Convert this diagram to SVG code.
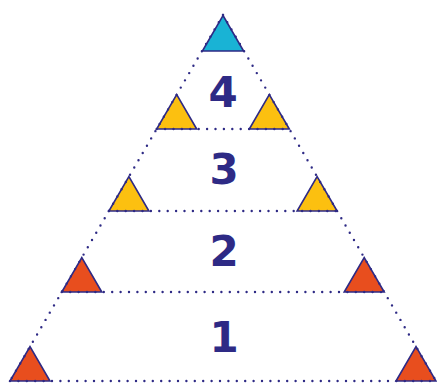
<svg xmlns="http://www.w3.org/2000/svg" width="437" height="383" viewBox="0 0 437 383">
<style>
.tri{stroke:#2e2a85;stroke-width:1.6;stroke-linejoin:miter}
.c{fill:#19b3d5}.y{fill:#fcc010}.o{fill:#e84e1e}
.dot{fill:none;stroke:#2e2a85;stroke-width:2.4;stroke-linecap:round;stroke-dasharray:0 8.4}
.num{font-family:"DejaVu Sans",sans-serif;font-weight:bold;font-size:42px;fill:#2e2a85;text-anchor:middle}
</style>
<rect width="437" height="383" fill="#ffffff"/>
<g id="top"><polygon class="tri c" points="223,15.5 243.6,51 202.4,51"/></g>
<g id="level4">
<polygon class="tri y" points="156.7,129 196.7,129 176.7,94.6"/>
<polygon class="tri y" points="249.3,129 289.3,129 269.3,94.6"/>
<text class="num" x="223" y="107">4</text>
</g>
<g id="level3">
<polygon class="tri y" points="108.9,211 148.9,211 128.9,176.6"/>
<polygon class="tri y" points="297.1,211 337.1,211 317.1,176.6"/>
<text class="num" x="224" y="184">3</text>
</g>
<g id="level2">
<polygon class="tri o" points="61.8,292 101.8,292 81.8,257.6"/>
<polygon class="tri o" points="344.2,292 384.2,292 364.2,257.6"/>
<text class="num" x="224" y="266">2</text>
</g>
<g id="level1">
<polygon class="tri o" points="10,381 50,381 30,346.6"/>
<polygon class="tri o" points="396,381 436,381 416,346.6"/>
<text class="num" x="224" y="352">1</text>
</g>
<g id="connectors">
<line class="dot" x1="223" y1="15" x2="10" y2="381"/>
<line class="dot" x1="223" y1="15" x2="436" y2="381"/>
<line class="dot" x1="156.7" y1="129" x2="289.3" y2="129"/>
<line class="dot" x1="108.9" y1="211" x2="337.1" y2="211"/>
<line class="dot" x1="61.8" y1="292" x2="384.2" y2="292"/>
<line class="dot" x1="10" y1="381" x2="436" y2="381"/>
</g>
</svg>
